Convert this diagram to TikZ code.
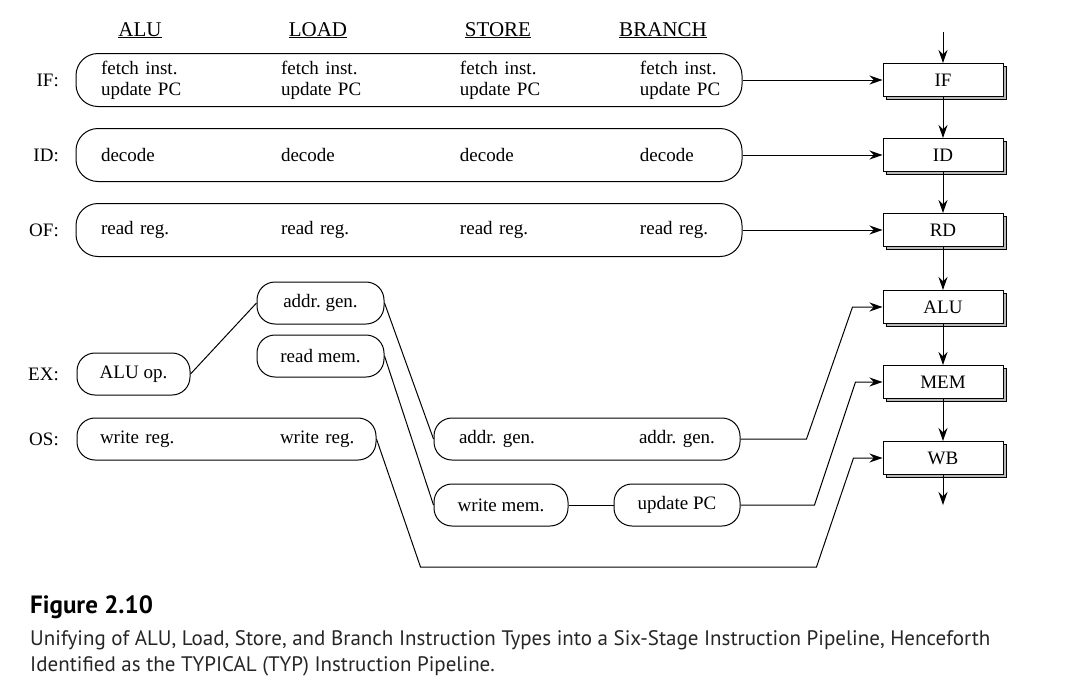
\documentclass[tikz,border=0pt]{standalone}
\usepackage{fontspec}
\setmainfont{Liberation Serif}
\newfontfamily\capfont{PT Sans}
\usetikzlibrary{arrows.meta,positioning,shadows}

\newcommand\fourcols[4]{\makebox[180pt][l]{#1}\makebox[179pt][l]{#2}\makebox[180pt][l]{#3}\makebox[0pt][l]{#4}}
\newcommand\twocols[2]{\makebox[180pt][l]{#1}\makebox[0pt][l]{#2}}

\begin{document}
\frenchspacing
\begin{tikzpicture}[x=1pt, y=-1pt,
  font=\fontsize{19}{21}\selectfont,
  row/.style={draw, line width=1pt, rounded corners=22pt, minimum height=53pt,
    text width=616pt, inner xsep=25pt, inner ysep=0pt, align=left},
  op/.style={draw, line width=1pt, rounded corners=18pt, minimum height=42pt, inner sep=0pt},
  stage/.style={draw, line width=1pt, fill=white, minimum width=120pt, minimum height=33pt,
    copy shadow={shadow xshift=3pt, shadow yshift=-3pt, fill=gray!55, draw=black, line width=.6pt}},
  head/.style={anchor=base, font=\fontsize{21}{24}\selectfont},
  lbl/.style={anchor=east, inner sep=0pt},
  link/.style={line width=1pt},
  flow/.style={-{Stealth[length=13pt, width=9pt]}, line width=1pt}
]
\useasboundingbox (0,0) rectangle (1077,697);

% instruction types
\node[head] (halu) at (140,36) {\underline{ALU}};
\node[head] (hload) at (318,36) {\underline{LOAD}};
\node[head] (hstore) at (498,36) {\underline{STORE}};
\node[head] (hbranch) at (663,36) {\underline{BRANCH}};

% stage labels
\node[lbl] (lif) at (59,80) {IF:};
\node[lbl] (lid) at (59,155) {ID:};
\node[lbl] (lof) at (59,230) {OF:};
\node[lbl] (lex) at (59,374) {EX:};
\node[lbl] (los) at (59,439) {OS:};

% common stages
\node[row] (ifrow) at (409,80)
  {\fourcols{fetch inst.}{fetch inst.}{fetch inst.}{fetch inst.}\\
   \fourcols{update PC}{update PC}{update PC}{update PC}};
\node[row] (idrow) at (409,155) {\fourcols{decode}{decode}{decode}{decode}};
\node[row] (ofrow) at (409,230) {\fourcols{read reg.}{read reg.}{read reg.}{read reg.}};

% execute / store
\node[op, minimum width=127pt] (addrld) at (320.5,303) {addr. gen.};
\node[op, minimum width=127pt] (rdmem) at (320.5,356) {read mem.};
\node[op, minimum width=113pt] (aluop) at (133.5,374) {ALU op.};
\node[op, minimum width=299pt, text width=253pt, inner xsep=23pt, align=left] (osrow) at (226.5,439)
  {\twocols{write reg.}{write reg.}};
\node[op, minimum width=306pt, text width=256pt, inner xsep=25pt, align=left] (addrst) at (587,439)
  {\twocols{addr. gen.}{addr. gen.}};
\node[op, minimum width=134pt] (wrmem) at (501,505) {write mem.};
\node[op, minimum width=126pt] (updpc) at (677,505) {update PC};

% pipeline
\node[stage] (ifst) at (943,80) {IF};
\node[stage] (idst) at (943,155) {ID};
\node[stage] (rdst) at (943,230) {RD};
\node[stage] (alust) at (943,307) {ALU};
\node[stage] (memst) at (943,382) {MEM};
\node[stage] (wbst) at (943,458) {WB};
\coordinate (pin) at (943,32);
\coordinate (pout) at (943,505);

\draw[flow] (pin) -- (ifst);
\draw[flow] (ifst) -- (idst);
\draw[flow] (idst) -- (rdst);
\draw[flow] (rdst) -- (alust);
\draw[flow] (alust) -- (memst);
\draw[flow] (memst) -- (wbst);
\draw[flow] (wbst) -- (pout);

\draw[flow] (ifrow) -- (ifst);
\draw[flow] (idrow) -- (idst);
\draw[flow] (ofrow) -- (rdst);

\draw[link] (aluop.east) -- (addrld.west);
\draw[link] (addrld.east) -- (addrst.west);
\draw[link] (rdmem.east) -- (wrmem.west);
\draw[link] (wrmem) -- (updpc);
\draw[flow] (addrst.east) -- ++(66,0) -- ([xshift=-30pt]alust.west) -- (alust.west);
\draw[flow] (updpc.east) -- ++(74,0) -- ([xshift=-27pt]memst.west) -- (memst.west);
\draw[flow] (osrow.east) -- ++(44,128) -- ++(396,0) -- ([xshift=-29pt]wbst.west) -- (wbst.west);

% caption
\node[anchor=base west, inner sep=0pt, font=\capfont\bfseries\fontsize{25}{28}\selectfont] (figno) at (30,613) {Figure 2.10};
\node[anchor=base west, inner sep=0pt, align=left, text=black!85,
  font=\capfont\fontsize{21}{25.6}\selectfont] (figcap) at (30,671)
  {Unifying of ALU, Load, Store, and Branch Instruction Types into a Six-Stage Instruction Pipeline, Henceforth\\
   Identified as the TYPICAL (TYP) Instruction Pipeline.};
\end{tikzpicture}
\end{document}
